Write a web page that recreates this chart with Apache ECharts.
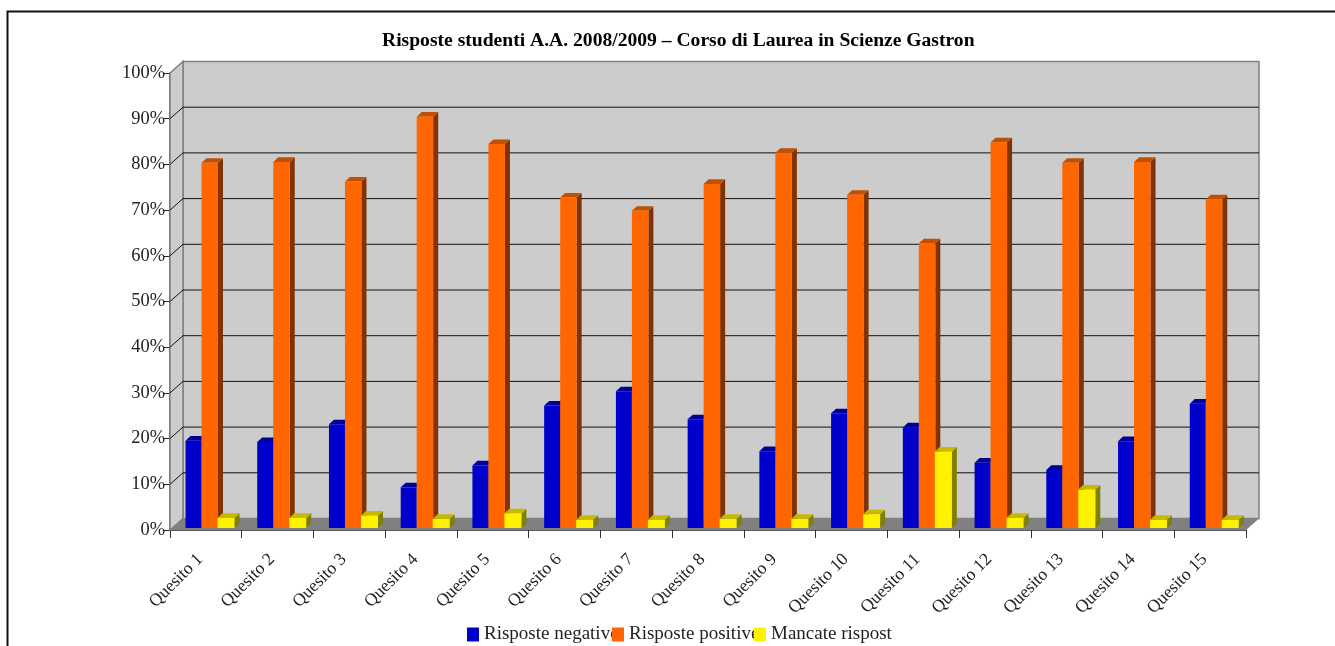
<!DOCTYPE html>
<html><head><meta charset="utf-8">
<style>html,body{margin:0;padding:0;background:#fff}#c{width:1335px;height:646px}</style>
<script src="https://cdn.jsdelivr.net/npm/echarts@6/dist/echarts.min.js"></script>
</head><body><div id="c"></div>
<script>
const categories = ['Quesito 1','Quesito 2','Quesito 3','Quesito 4','Quesito 5','Quesito 6','Quesito 7','Quesito 8','Quesito 9','Quesito 10','Quesito 11','Quesito 12','Quesito 13','Quesito 14','Quesito 15'];
const negative = [19.1,18.8,22.7,8.9,13.7,26.8,29.9,23.8,16.8,25.1,22,14.3,12.7,19,27.2];
const positive = [79.9,80.1,75.8,90,84,72.3,69.4,75.3,82.1,72.9,62.3,84.4,79.9,80.1,71.9];
const missing = [2.2,2.2,2.7,2,3.2,1.8,1.8,2,2,3,16.7,2.2,8.4,1.8,1.8];
const ticks = [0,10,20,30,40,50,60,70,80,90,100];
const titleText = 'Risposte studenti A.A. 2008/2009 – Corso di Laurea in Scienze Gastron';

const FONT = '"Liberation Serif", serif';
const WALL = [13, -11.5], BAR = [5, -4.6], LIFT = 2;

function shade(front, top, side){ return {front, top, side}; }
function barSeries(name, data, offset, width, c){
  return {
    name, type:'custom', coordinateSystem:'cartesian2d', z:5, clip:false,
    itemStyle:{color:c.front},
    data: data.map((v,i)=>[i,v]),
    renderItem(params, api){
      const i = api.value(0), v = api.value(1);
      const band = api.size([1,0])[0];
      const c0 = api.coord([i,0]), c1 = api.coord([i,v]);
      const x0 = c0[0]-band/2+offset, x1 = x0+width;
      const yb = c0[1]-LIFT, yt = c1[1]-LIFT;
      const [dx,dy] = BAR;
      return {type:'group', children:[
        {type:'polygon',shape:{points:[[x1,yb],[x1+dx,yb+dy],[x1+dx,yt+dy],[x1,yt]]},style:{fill:c.side}},
        {type:'polygon',shape:{points:[[x0,yt],[x0+dx,yt+dy],[x1+dx,yt+dy],[x1,yt]]},style:{fill:c.top}},
        {type:'rect',shape:{x:x0,y:yt,width:width,height:yb-yt},style:{fill:c.front}}
      ]};
    }
  };
}
const wallSeries = {
  name:'wall', type:'custom', coordinateSystem:'cartesian2d', z:1, silent:true, clip:false,
  data: ticks.map(t=>[t]),
  renderItem(params, api){
    const t = api.value(0);
    const band = api.size([1,0])[0];
    const n = categories.length;
    const xl = api.coord([0,0])[0]-band/2, xr = api.coord([n-1,0])[0]+band/2;
    const y = api.coord([0,t])[1];
    const [dx,dy] = WALL;
    const kids = [];
    if(t===0){
      const yt = api.coord([0,100])[1];
      kids.push({type:'polygon',shape:{points:[[xl+dx,y+dy],[xr+dx,y+dy],[xr+dx,yt+dy],[xl+dx,yt+dy]]},style:{fill:'#cccccc',stroke:'#808080',lineWidth:1.5}});
      kids.push({type:'polygon',shape:{points:[[xl,y],[xl+dx,y+dy],[xl+dx,yt+dy],[xl,yt]]},style:{fill:'#cccccc',stroke:'#808080',lineWidth:1.5}});
      kids.push({type:'polygon',shape:{points:[[xl,y],[xr,y],[xr+dx,y+dy],[xl+dx,y+dy]]},style:{fill:'#808080'}});
    } else if(t<100){
      kids.push({type:'polyline',shape:{points:[[xl,y],[xl+dx,y+dy],[xr+dx,y+dy]]},style:{fill:'none',stroke:'#111',lineWidth:1}});
    }
    return {type:'group',children:kids};
  }
};
const legendBase = {top:625, itemWidth:12, itemHeight:14, itemGap:0, icon:'rect', selectedMode:false, padding:0,
  textStyle:{fontFamily:FONT,fontSize:19,color:'#222'}};
const chart = echarts.init(document.getElementById('c'));
chart.setOption({
  animation:false,
  backgroundColor:'#fff',
  title:{text:titleText,left:382,top:31,padding:0,textStyle:{fontFamily:FONT,fontSize:19.6,fontWeight:'bold',color:'#000'}},
  grid:{left:170,right:89,top:73,bottom:116},
  xAxis:{type:'category',data:categories,boundaryGap:true,
    axisLine:{lineStyle:{color:'#222',width:1.5}},
    axisTick:{show:true,length:8,alignWithLabel:false,lineStyle:{color:'#333'}},
    axisLabel:{rotate:45,interval:0,margin:21,padding:[0,8,0,0],fontFamily:FONT,fontSize:17.6,color:'#222'}},
  yAxis:{type:'value',min:0,max:100,interval:10,
    axisLine:{show:true,lineStyle:{color:'#444',width:1.5}},
    axisTick:{show:true,length:6,lineStyle:{color:'#222'}},
    splitLine:{show:false},
    axisLabel:{formatter:'{value}%',margin:5,fontFamily:FONT,fontSize:18.4,color:'#222'}},
  legend:[
    Object.assign({},legendBase,{left:467,data:['Risposte negative']}),
    Object.assign({},legendBase,{left:612,data:['Risposte positive']}),
    Object.assign({},legendBase,{left:754,data:['Mancate risposte'],
      textStyle:Object.assign({},legendBase.textStyle,{width:123,overflow:'truncate',ellipsis:''})})
  ],
  graphic:[{type:'polyline',silent:true,shape:{points:[[7.5,646],[7.5,11.5],[1335,11.5]]},style:{fill:'none',stroke:'#111',lineWidth:2}}],
  series:[
    wallSeries,
    barSeries('Risposte negative',negative,15.5,16,shade('#0000cc','#000099','#000066')),
    barSeries('Risposte positive',positive,31.5,16.5,shade('#ff6600','#c25000','#803300')),
    barSeries('Mancate risposte',missing,47.5,17,shade('#fff200','#c8b800','#808000'))
  ]
});
</script></body></html>
